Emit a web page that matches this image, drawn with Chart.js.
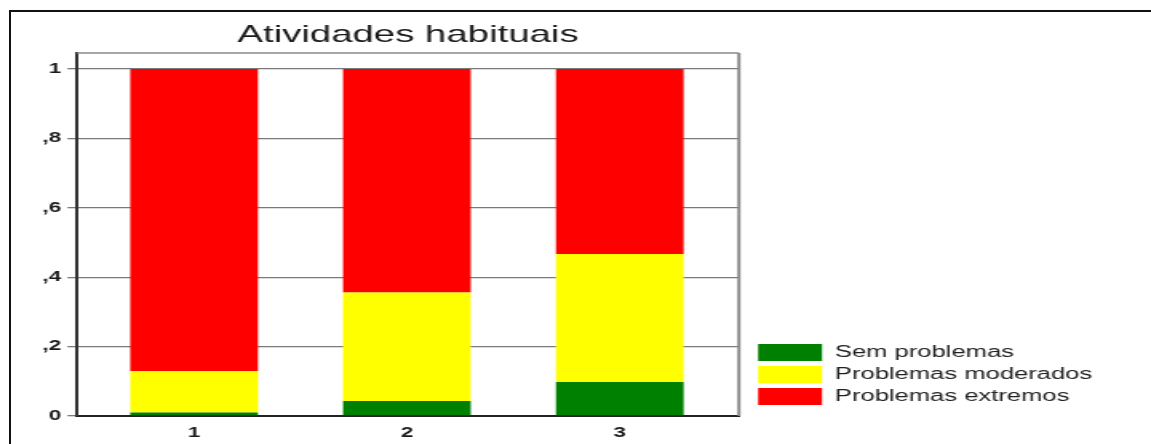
<!DOCTYPE html>
<html>
<head>
  <meta charset="UTF-8">
  <title>Atividades habituais</title>
  <script src="https://cdn.jsdelivr.net/npm/chart.js"></script>
  <style>
    body {
      margin: 0;
      background: #fff;
      width: 1151px;
      height: 444px;
      overflow: hidden;
      position: relative;
    }
    .frame {
      position: absolute;
      left: 9px;
      top: 10px;
      width: 1150px;
      height: 440px;
      border-top: 2px solid #111;
      border-left: 2px solid #111;
    }
    /* the original graphic is stretched sideways, so the canvas is too */
    #chart {
      position: absolute;
      left: 0;
      top: 0;
      transform: scaleX(1.5986);
      transform-origin: 0 0;
    }
  </style>
</head>
<body>
  <div class="frame"></div>
  <canvas id="chart" width="720" height="444"></canvas>

  <script>
    const categories = ['1', '2', '3'];
    const categoryPos = [1, 2, 3];
    const semProblemas = [0.01, 0.043, 0.098];
    const moderados = [0.12, 0.313, 0.369];
    const extremos = [0.87, 0.644, 0.533];
    const yTicks = [0, 0.2, 0.4, 0.6, 0.8, 1];
    const yTickLabels = ['0', ',2', ',4', ',6', ',8', '1'];

    const font = "'Liberation Sans', Arial, sans-serif";

    const toPoints = vals => vals.map((v, i) => ({ x: categoryPos[i], y: v }));

    // grey box round the plot area (top and right sides)
    const plotBox = {
      id: 'plotBox',
      afterDraw(chart) {
        const { ctx, chartArea: a } = chart;
        ctx.save();
        ctx.strokeStyle = '#8a8a8a';
        ctx.lineWidth = 1.5;
        ctx.beginPath();
        ctx.moveTo(a.left, a.top);
        ctx.lineTo(a.right, a.top);
        ctx.stroke();
        ctx.lineWidth = 2;
        ctx.beginPath();
        ctx.moveTo(a.right, a.top);
        ctx.lineTo(a.right, a.bottom);
        ctx.stroke();
        ctx.restore();
      }
    };

    // move legend a little right and up, like the original
    const legendNudge = {
      id: 'legendNudge',
      afterLayout(chart) {
        const lg = chart.legend;
        if (!lg) return;
        lg.left += 7; lg.right += 7;
        lg.top -= 6; lg.bottom -= 6;
      }
    };

    new Chart(document.getElementById('chart'), {
      type: 'bar',
      data: {
        datasets: [
          { label: 'Sem problemas', data: toPoints(semProblemas), backgroundColor: '#008000', borderWidth: 0 },
          { label: 'Problemas moderados', data: toPoints(moderados), backgroundColor: '#ffff00', borderWidth: 0 },
          { label: 'Problemas extremos', data: toPoints(extremos), backgroundColor: '#ff0000', borderWidth: 0 }
        ]
      },
      plugins: [plotBox, legendNudge],
      options: {
        responsive: false,
        animation: false,
        categoryPercentage: 1,
        barPercentage: 0.6,
        layout: { padding: { left: 0, right: 33.8, top: 0, bottom: 0 } },
        scales: {
          x: {
            type: 'linear',
            stacked: true,
            offset: false,
            min: 0.45,
            max: 3.56,
            afterFit(scale) { scale.height = 28; },
            grid: { display: false },
            border: { color: '#222', width: 2 },
            ticks: {
              stepSize: 1,
              includeBounds: false,
              padding: 1,
              color: '#1a1a1a',
              font: { family: font, size: 14, weight: 'bold' },
              callback: v => categories[categoryPos.indexOf(v)] ?? ''
            }
          },
          y: {
            stacked: true,
            min: 0,
            max: 1.046,
            afterFit(scale) { scale.width = 48.17; },
            afterBuildTicks(scale) { scale.ticks = yTicks.map(v => ({ value: v })); },
            grid: { color: '#7a7a7a', lineWidth: 1.3, tickLength: 6 },
            border: { color: '#333', width: 2 },
            ticks: {
              padding: 4,
              color: '#1a1a1a',
              font: { family: font, size: 14, weight: 'bold' },
              callback: v => yTickLabels[yTicks.indexOf(Math.round(v * 10) / 10)]
            }
          }
        },
        plugins: {
          title: {
            display: true,
            text: 'Atividades habituais',
            fullSize: false,
            color: '#1a1a1a',
            font: { family: font, size: 24, weight: 'normal' },
            padding: { top: 21, bottom: 3.2 }
          },
          legend: {
            position: 'right',
            align: 'end',
            fullSize: false,
            maxWidth: 240,
            labels: {
              boxWidth: 40,
              boxHeight: 17,
              padding: 5,
              color: '#222',
              font: { family: font, size: 16 }
            }
          },
          tooltip: { enabled: false }
        }
      }
    });
  </script>
</body>
</html>
